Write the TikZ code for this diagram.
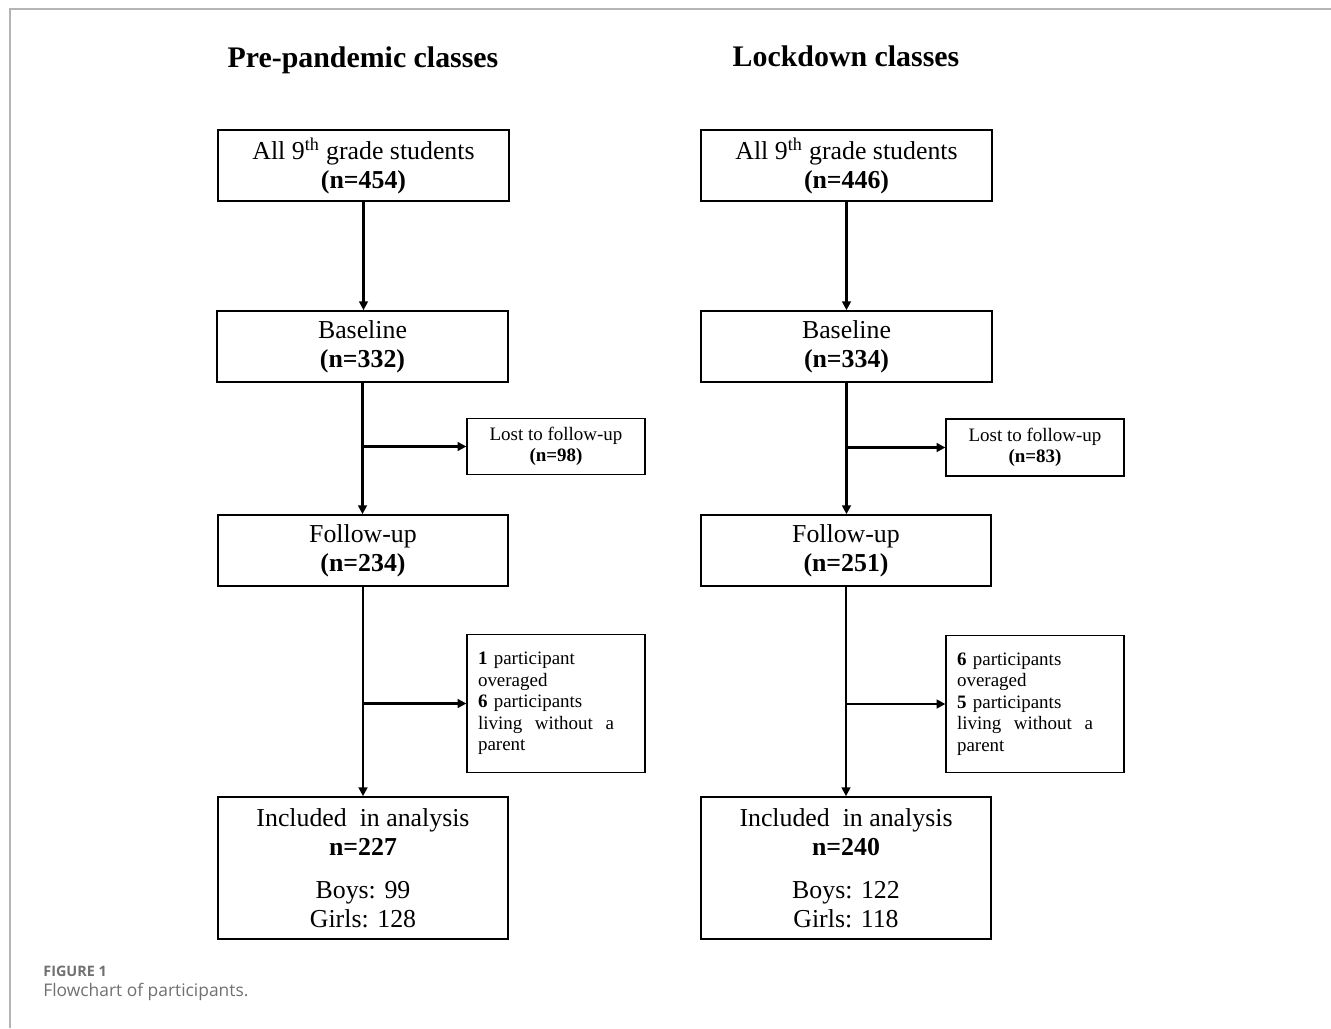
\documentclass[tikz,border=0pt]{standalone}
\usepackage{fontspec}
\setmainfont{Liberation Serif}
\newfontfamily\capfont{Open Sans}
\usepackage{xcolor}
\usepackage{tikz}
\usetikzlibrary{arrows.meta}

\definecolor{framegray}{HTML}{B4B4B4}
\definecolor{capgray}{HTML}{707070}

\begin{document}
\begin{tikzpicture}[
    x=0.02cm, y=-0.02cm,
    mainbox/.style={rectangle, draw=black, line width=1pt, inner sep=0pt, align=center, minimum width=5.82cm, minimum height=1.42cm, font=\fontsize{14.7}{16.4}\selectfont},
    lostbox/.style={rectangle, draw=black, line width=0.75pt, inner sep=0pt, align=center, minimum width=3.56cm, minimum height=1.12cm, font=\fontsize{10.8}{12.2}\selectfont},
    exclbox/.style={rectangle, draw=black, line width=0.75pt, inner ysep=0pt, inner xsep=0.22cm, align=left, text width=3.12cm, minimum height=2.75cm, font=\fontsize{10.8}{12.3}\selectfont},
    grouptitle/.style={anchor=base, font=\fontsize{17}{20}\selectfont\bfseries},
    arrow/.style={-{Triangle[length=5pt,width=5pt]}, line width=1.2pt, draw=black}
]
    \useasboundingbox (0,0) rectangle (1331,1028);
    \draw [framegray, line width=0.9pt] (10,1028) -- (10,9) -- (1331,9);

    % titles
    \node [grouptitle] (pretitle) at (363,67) {Pre-pandemic classes};
    \node [grouptitle] (locktitle) at (846,66) {Lockdown classes};

    % pre-pandemic column
    \node [mainbox] (pre1) at (363.5,165.5) {All 9\textsuperscript{th} grade students\\\textbf{(n=454)}};
    \node [mainbox] (pre2) at (362.5,346.5) {Baseline\\\textbf{(n=332)}};
    \node [lostbox] (prelost) at (556,446.5) {Lost to follow-up\\\textbf{(n=98)}};
    \node [mainbox, minimum width=5.8cm] (pre3) at (363,550.5) {Follow-up\\\textbf{(n=234)}};
    \node [exclbox] (preexcl) at (556,703.5) {\textbf{1} participant\\overaged\\\textbf{6} participants\\living\ \ without\ \ a\\parent};
    \node [mainbox, minimum width=5.8cm, minimum height=2.84cm] (pre4) at (363,868) {Included\ \ in analysis\\\textbf{n=227}\\[8pt]Boys: 99\\Girls: 128};

    % lockdown column
    \node [mainbox] (lock1) at (846.5,165.5) {All 9\textsuperscript{th} grade students\\\textbf{(n=446)}};
    \node [mainbox] (lock2) at (846.5,346.5) {Baseline\\\textbf{(n=334)}};
    \node [lostbox, minimum height=1.14cm] (locklost) at (1035,447.5) {Lost to follow-up\\\textbf{(n=83)}};
    \node [mainbox, minimum width=5.8cm] (lock3) at (846,550.5) {Follow-up\\\textbf{(n=251)}};
    \node [exclbox] (lockexcl) at (1035,704) {\textbf{6} participants\\overaged\\\textbf{5} participants\\living\ \ without\ \ a\\parent};
    \node [mainbox, minimum width=5.8cm, minimum height=2.84cm] (lock4) at (846,868) {Included\ \ in analysis\\\textbf{n=240}\\[8pt]Boys: 122\\Girls: 118};

    % arrows
    \draw [arrow] (pre1.south) -- (pre1.south |- pre2.north);
    \draw [arrow] (pre2.south) -- (pre2.south |- pre3.north);
    \draw [arrow] (pre2.south |- prelost.west) -- (prelost.west);
    \draw [arrow] (pre3.south) -- (pre3.south |- pre4.north);
    \draw [arrow] (pre3.south |- preexcl.west) -- (preexcl.west);

    \draw [arrow] (lock1.south) -- (lock1.south |- lock2.north);
    \draw [arrow] (lock2.south) -- (lock2.south |- lock3.north);
    \draw [arrow] (lock2.south |- locklost.west) -- (locklost.west);
    \draw [arrow] (lock3.south) -- (lock3.south |- lock4.north);
    \draw [arrow] (lock3.south |- lockexcl.west) -- (lockexcl.west);

    % caption
    \node [anchor=west, inner sep=0pt, text=capgray, font=\capfont\fontsize{8.2}{10}\selectfont\bfseries] (figlabel) at (43,971) {FIGURE 1};
    \node [anchor=west, inner sep=0pt, text=capgray, font=\capfont\fontsize{9.9}{12}\selectfont] (figcaption) at (43,992) {Flowchart of participants.};
\end{tikzpicture}
\end{document}
